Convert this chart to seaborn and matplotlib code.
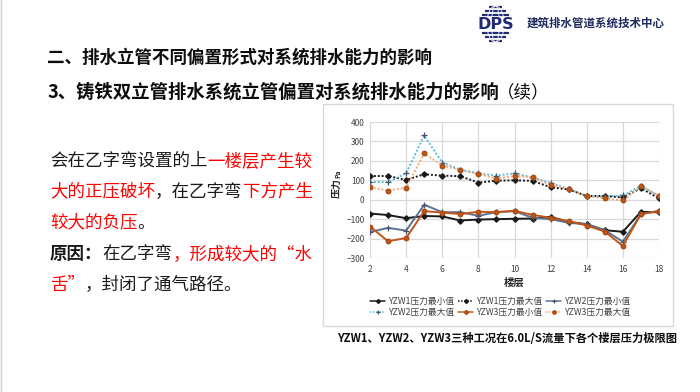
import matplotlib
matplotlib.use("Agg")
import matplotlib.pyplot as plt
import seaborn as sns
import numpy as np
from matplotlib.patches import Rectangle
from matplotlib.lines import Line2D

sns.set_theme(style="white")
plt.rcParams['font.family'] = ['Noto Sans CJK SC', 'DejaVu Sans']

# data
floors = list(range(2, 19))
yzw1_min = [-71, -79, -95, -84, -86, -107, -102, -100, -98, -97, -88, -114, -126, -157, -165, -62, -65]
yzw1_max = [122, 122, 102, 131, 124, 121, 88, 98, 100, 97, 64, 53, 19, 19, 12, 59, 7]
yzw2_min = [-166, -145, -159, -26, -64, -64, -83, -64, -59, -93, -100, -119, -126, -157, -216, -74, -57]
yzw2_max = [91, 91, 136, 331, 191, 155, 136, 124, 136, 114, 86, 55, 19, 16, 22, 71, 20]
yzw3_min = [-138, -214, -197, -59, -66, -74, -62, -64, -57, -78, -93, -110, -133, -164, -238, -74, -59]
yzw3_max = [64, 47, 62, 238, 176, 153, 133, 109, 122, 116, 76, 55, 19, 7, -3, 69, 19]

title1 = "二、排水立管不同偏置形式对系统排水能力的影响"
title2 = "3、铸铁双立管排水系统立管偏置对系统排水能力的影响"
caption = "YZW1、YZW2、YZW3三种工况在6.0L/S流量下各个楼层压力极限图"

RED = "#ff0000"
BLK = "#1a1a1a"
body = [
    [("会在乙字弯设置的上", BLK, "normal"), ("一楼层产生较", RED, "normal")],
    [("大的正压破坏", RED, "normal"), ("，在乙字弯", BLK, "normal"), ("下方产生", RED, "normal")],
    [("较大的负压", RED, "normal"), ("。", BLK, "normal")],
    [("原因：", BLK, "bold"), ("在乙字弯", BLK, "normal"), ("，形成较大的“水", RED, "normal")],
    [("舌”", RED, "normal"), ("，封闭了通气路径。", BLK, "normal")],
]

W, H = 700, 392
fig = plt.figure(figsize=(7, 3.92), dpi=100)
fig.patch.set_facecolor("white")

def fx(px):
    return px / W

def fy(py):
    return 1 - py / H

# slide edge
fig.add_artist(Line2D([0.002, 0.002], [0, 1], color="#cfcfcf", lw=1))

# titles
fig.text(fx(47), fy(58), title1, fontsize=12.6, fontweight="bold", color="#0d0d0d", va="center")
t2 = fig.text(fx(47), fy(92), title2, fontsize=13.2, fontweight="bold", color="#0d0d0d", va="center")
renderer = fig.canvas.get_renderer()
bb = t2.get_window_extent(renderer)
fig.text(fx(bb.x1 - 2), fy(92), "（续）", fontsize=12.6, color="#0d0d0d", va="center")

# logo
lax = fig.add_axes([fx(473), fy(43), fx(45), 38 / H])
lax.set_xlim(-1.15, 1.15)
lax.set_ylim(-1.05, 1.05)
lax.axis("off")
navy = "#1f2a78"
for yy in np.linspace(-0.92, 0.92, 10):
    if abs(yy) < 0.32:
        continue
    half = np.sqrt(1 - yy ** 2) * 0.8
    lax.plot([-half, half], [yy, yy], color=navy, lw=1.6, solid_capstyle="butt")
tt = np.linspace(0, 2 * np.pi, 100)
for a in [0.25, 0.55]:
    lax.plot(a * np.cos(tt) * 0.8, np.sin(tt), color="white", lw=0.6)
lax.text(0, -0.02, "DPS", fontsize=11.5, fontweight="bold", color=navy, ha="center", va="center",
         family="DejaVu Sans")
fig.text(fx(527), fy(23), "建筑排水管道系统技术中心", fontsize=8.3, fontweight="bold", color="#1f2a5e",
         va="center")

# body text drawn in coloured runs
line_y = [159, 190, 221, 252, 283]
for runs, yc in zip(body, line_y):
    x = fx(50)
    for txt, col, wt in runs:
        t = fig.text(x, fy(yc + 6.6), txt, fontsize=12.6, color=col, fontweight=wt, va="baseline")
        x += t.get_window_extent(renderer).width / W

# chart frame
fig.add_artist(Rectangle((fx(323), fy(326)), fx(350), 222 / H, transform=fig.transFigure,
                         fill=False, edgecolor="#d9d9d9", lw=1))

ax = fig.add_axes([fx(370), fy(258), fx(289), 136 / H])
series = [
    (yzw1_min, "YZW1压力最小值", "#1a1a1a", "-", "D", "#1a1a1a", "#1a1a1a", 2.8),
    (yzw1_max, "YZW1压力最大值", "#1a1a1a", (0, (1, 1)), "D", "#1a1a1a", "#1a1a1a", 2.8),
    (yzw2_min, "YZW2压力最小值", "#5b7396", "-", "+", "#44546a", "#44546a", 4),
    (yzw2_max, "YZW2压力最大值", "#5bbcdc", (0, (1, 1)), "+", "#44546a", "#44546a", 4),
    (yzw3_min, "YZW3压力最小值", "#c0561a", "-", "o", "#a84a10", "#c0561a", 3.3),
    (yzw3_max, "YZW3压力最大值", "#f2aa78", (0, (1, 1)), "o", "#a84a10", "#c0561a", 3.3),
]
for vals, lab, col, ls, mk, mec, mfc, ms in series:
    sns.lineplot(x=floors, y=vals, ax=ax, color=col, linestyle=ls, lw=1.4, marker=mk,
                 markersize=ms, markeredgecolor=mec, markerfacecolor=mfc, markeredgewidth=0.9,
                 label=lab)

ax.set_xlim(2, 18)
ax.set_ylim(-300, 400)
ax.set_xticks(range(2, 19, 2))
ax.set_yticks(range(-300, 401, 100))
ax.grid(True, color="#d9d9d9", lw=0.9)
ax.set_axisbelow(True)
for s in ax.spines.values():
    s.set_visible(False)
ax.tick_params(axis="both", labelsize=6, colors="#404040", length=0)
ax.tick_params(axis="x", pad=5)
ax.tick_params(axis="y", pad=4)
ax.set_xlabel("")
ax.set_ylabel("")
fig.text(fx(514), fy(283), "楼层", fontsize=7.5, fontweight="bold", color="#262626", ha="center", va="center")
fig.text(fx(337), fy(188), "压力", fontsize=7.2, fontweight="bold", color="#262626", ha="center", va="center",
         rotation=90)
fig.text(fx(338), fy(174), "Pa", fontsize=4.8, fontweight="bold", color="#262626", ha="center", va="center",
         rotation=90)

h, l = ax.get_legend_handles_labels()
order = [0, 3, 1, 4, 2, 5]
leg = ax.legend([h[i] for i in order], [l[i] for i in order], ncol=3, loc="center",
                bbox_to_anchor=(fx(500), fy(307)), bbox_transform=fig.transFigure, frameon=False,
                fontsize=6.3, handlelength=1.7, columnspacing=0.5, labelspacing=0.25, handletextpad=0.3,
                markerscale=0.75)
for txt in leg.get_texts():
    txt.set_color("#404040")
for ln in leg.get_lines():
    ln.set_linewidth(1.1)

fig.text(fx(507), fy(339), caption, fontsize=8.1, fontweight="bold", color="#0d0d0d", ha="center",
         va="center")

fig.savefig("out.png", dpi=100, facecolor="white")
